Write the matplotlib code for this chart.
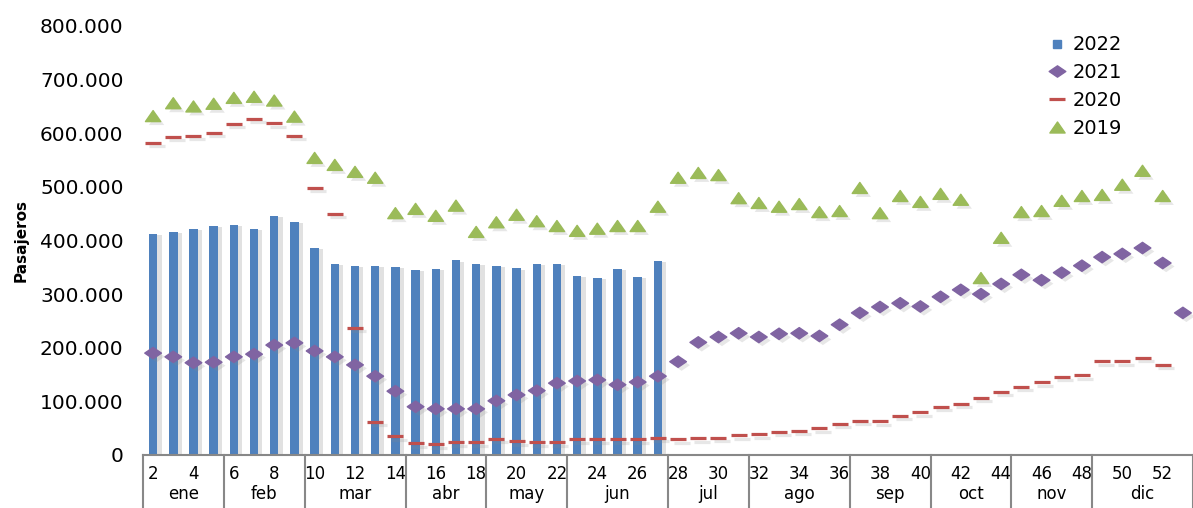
import numpy as np
import matplotlib
matplotlib.use('Agg')
import matplotlib.pyplot as plt
import matplotlib.patheffects as pe
import matplotlib.transforms as mtransforms
from matplotlib.path import Path
from matplotlib.lines import Line2D

# weeks 2..53
weeks = list(range(2, 54))

p2022 = [412000, 416000, 422000, 427000, 429000, 422000, 446000, 435000, 386000, 356000,
         353000, 353000, 351000, 345000, 347000, 363000, 356000, 353000, 348000, 356000,
         356000, 334000, 330000, 347000, 332000, 362000]

p2021 = [190000, 183000, 172000, 173000, 183000, 188000, 205000, 209000, 194000, 183000,
         168000, 147000, 119000, 90000, 86000, 86000, 86000, 101000, 112000, 120000,
         134000, 138000, 140000, 131000, 136000, 147000, 174000, 210000, 220000, 227000,
         220000, 226000, 227000, 222000, 243000, 265000, 276000, 283000, 277000, 295000,
         308000, 300000, 319000, 336000, 326000, 340000, 353000, 369000, 375000, 386000,
         358000, 265000]

p2020 = [582000, 593000, 595000, 601000, 618000, 627000, 619000, 595000, 498000, 450000,
         237000, 62000, 35000, 22000, 20000, 24000, 24000, 30000, 26000, 24000,
         24000, 29000, 29000, 29000, 29000, 32000, 29000, 31000, 32000, 37000,
         39000, 43000, 45000, 50000, 58000, 64000, 63000, 73000, 80000, 90000,
         96000, 107000, 118000, 127000, 136000, 146000, 149000, 175000, 175000, 181000,
         168000]

p2019 = [632000, 656000, 650000, 655000, 666000, 668000, 661000, 631000, 554000, 541000,
         528000, 517000, 451000, 459000, 446000, 465000, 416000, 434000, 448000, 436000,
         427000, 418000, 422000, 427000, 427000, 463000, 517000, 526000, 522000, 479000,
         470000, 463000, 468000, 453000, 455000, 498000, 451000, 483000, 472000, 487000,
         476000, 330000, 405000, 453000, 455000, 474000, 483000, 485000, 504000, 530000,
         483000]

months = ['ene', 'feb', 'mar', 'abr', 'may', 'jun', 'jul', 'ago', 'sep', 'oct', 'nov', 'dic']
month_weeks = [4, 4, 5, 4, 4, 5, 4, 5, 4, 4, 4, 5]

c_bar = '#4F81BD'
c_21 = '#8064A2'
c_20 = '#C0504D'
c_19 = '#9BBB59'

diamond = Path([(-1, 0), (0, 0.68), (1, 0), (0, -0.68), (-1, 0)],
               [Path.MOVETO, Path.LINETO, Path.LINETO, Path.LINETO, Path.CLOSEPOLY])
triangle = Path([(-1, -0.72), (1, -0.72), (0, 0.72), (-1, -0.72)],
                [Path.MOVETO, Path.LINETO, Path.LINETO, Path.CLOSEPOLY])

fig = plt.figure(figsize=(11.93, 5.08), dpi=100)
ax = fig.add_axes([143 / 1193, 1 - 455 / 508, 1 - 143 / 1193, (455 - 26) / 508])

shadow_bar = [pe.SimplePatchShadow(offset=(3, -1), shadow_rgbFace='#888888', alpha=0.25), pe.Normal()]
shadow_mk = [pe.SimplePatchShadow(offset=(2.5, -2.5), shadow_rgbFace='#888888', alpha=0.2), pe.Normal()]
shadow_ln = [pe.SimpleLineShadow(offset=(2.5, -2.5), shadow_color='#888888', alpha=0.2), pe.Normal()]

bars = ax.bar(weeks[:len(p2022)], p2022, width=0.42, color=c_bar, zorder=2)
for b in bars:
    b.set_path_effects(shadow_bar)

ax.plot(weeks[:len(p2021)], p2021, linestyle='none', marker=diamond, ms=12,
        color=c_21, mec=c_21, zorder=4, path_effects=shadow_mk)
ax.plot(weeks[:len(p2020)], p2020, linestyle='none', marker='_', ms=11.5, mew=2.3,
        color=c_20, zorder=3, path_effects=shadow_ln)
ax.plot(weeks[:len(p2019)], p2019, linestyle='none', marker=triangle, ms=11,
        color=c_19, mec=c_19, zorder=3, path_effects=shadow_mk)

ax.set_xlim(1.5, 53.5)
ax.set_ylim(0, 800000)
ax.set_yticks(np.arange(0, 800001, 100000))
ax.set_yticklabels(['0'] + ['{:,}'.format(v).replace(',', '.') for v in range(100000, 800001, 100000)])
ax.set_xticks(range(2, 53, 2))
ax.set_xticklabels([str(w) for w in range(2, 53, 2)])
ax.tick_params(axis='y', length=0, pad=14, labelsize=14.5)
ax.tick_params(axis='x', length=0, pad=7, labelsize=12)
for s in ['top', 'right', 'left']:
    ax.spines[s].set_visible(False)
ax.spines['bottom'].set_color('#888888')
ax.spines['bottom'].set_linewidth(1.5)
ax.set_ylabel('Pasajeros', fontsize=11, fontweight='bold', labelpad=8)

# month groups under the axis
trans = mtransforms.blended_transform_factory(ax.transData, ax.transAxes)
start = 1.5
ax.plot([start, start], [0, -0.2], transform=trans, color='#888888', lw=1.5, clip_on=False)
for m, n in zip(months, month_weeks):
    end = start + n
    ax.plot([end, end], [0, -0.2], transform=trans, color='#888888', lw=1.5, clip_on=False)
    ax.text((start + end) / 2, -0.092, m, transform=trans, ha='center', va='center',
            fontsize=12, clip_on=False)
    start = end

handles = [
    Line2D([], [], linestyle='none', marker='s', ms=6, color=c_bar),
    Line2D([], [], linestyle='none', marker=diamond, ms=12, color=c_21),
    Line2D([], [], linestyle='none', marker='_', ms=11.5, mew=2.3, color=c_20),
    Line2D([], [], linestyle='none', marker=triangle, ms=11, color=c_19),
]
fig.legend(handles, ['2022', '2021', '2020', '2019'], loc='upper left',
           bbox_to_anchor=(1030 / 1193, 1 - 18 / 508), frameon=False,
           fontsize=14, handlelength=1.0, handletextpad=0.3, labelspacing=0.45)

fig.savefig('out.png', dpi=100)
